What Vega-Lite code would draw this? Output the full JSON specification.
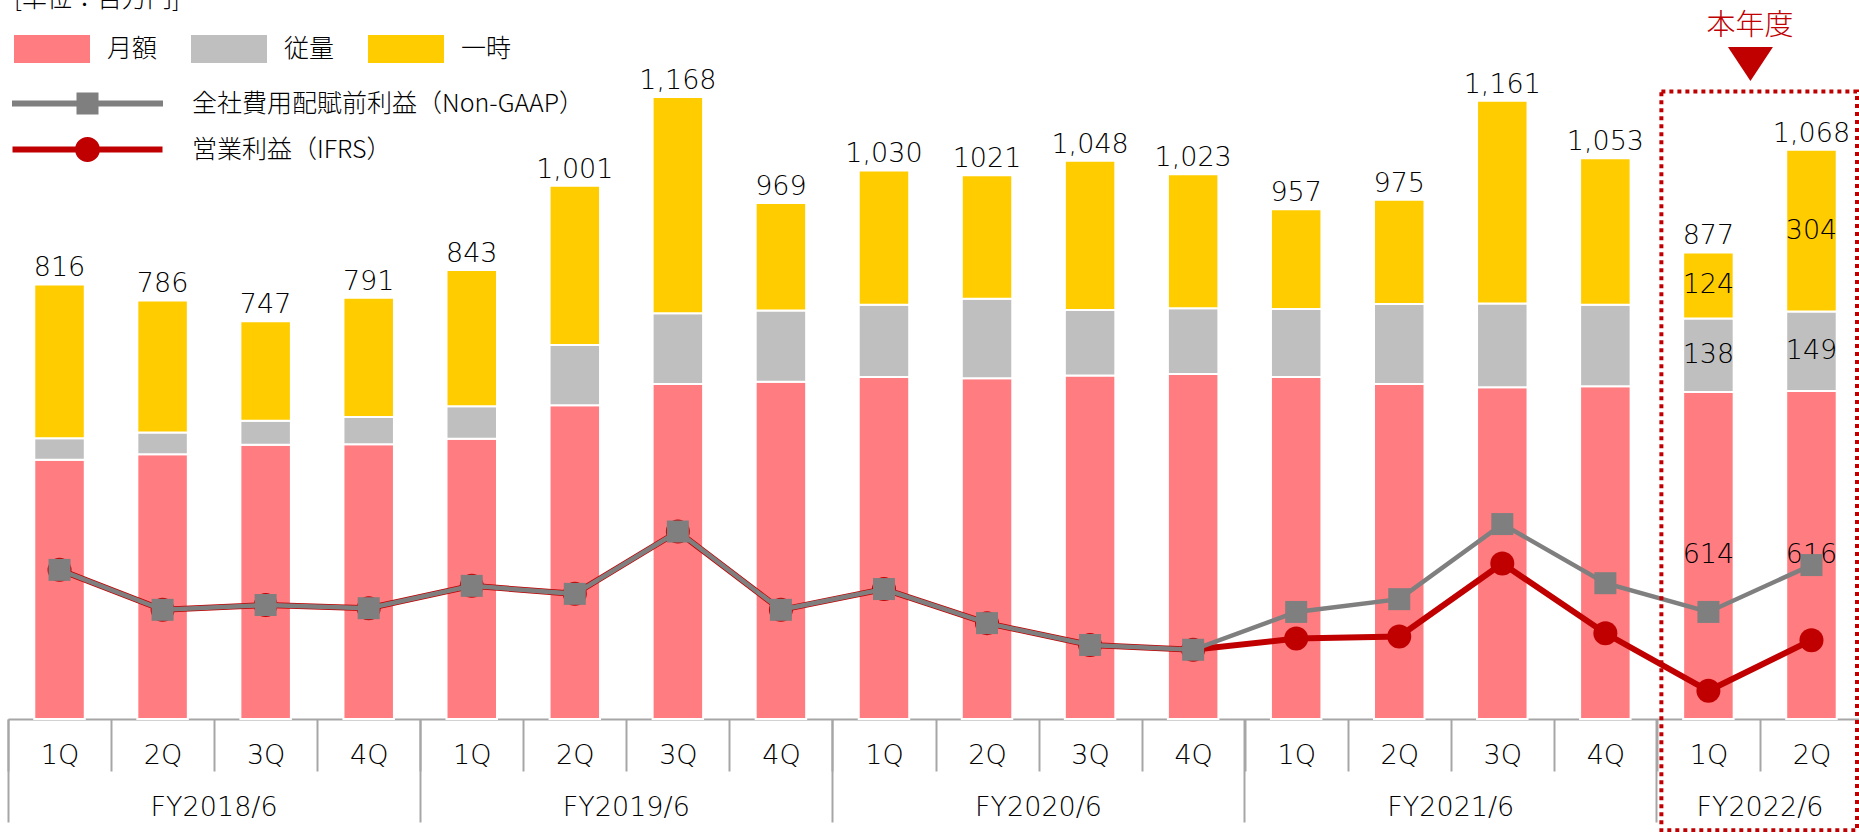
{
  "$schema": "https://vega.github.io/schema/vega-lite/v6.json",
  "width": 1851,
  "height": 719,
  "autosize": {"type": "none"},
  "padding": {"left": 8, "top": 0, "right": 0, "bottom": 113},
  "background": "white",
  "config": {"view": {"stroke": null}, "font": "Noto Sans CJK JP"},
  "datasets": {
    "seg": [
      {"q": "FY2018/6|1Q", "cat": "月額", "v": 487}, {"q": "FY2018/6|1Q", "cat": "従量", "v": 40}, {"q": "FY2018/6|1Q", "cat": "一時", "v": 289},
      {"q": "FY2018/6|2Q", "cat": "月額", "v": 497}, {"q": "FY2018/6|2Q", "cat": "従量", "v": 41}, {"q": "FY2018/6|2Q", "cat": "一時", "v": 248},
      {"q": "FY2018/6|3Q", "cat": "月額", "v": 515}, {"q": "FY2018/6|3Q", "cat": "従量", "v": 45}, {"q": "FY2018/6|3Q", "cat": "一時", "v": 187},
      {"q": "FY2018/6|4Q", "cat": "月額", "v": 516}, {"q": "FY2018/6|4Q", "cat": "従量", "v": 51}, {"q": "FY2018/6|4Q", "cat": "一時", "v": 224},
      {"q": "FY2019/6|1Q", "cat": "月額", "v": 526}, {"q": "FY2019/6|1Q", "cat": "従量", "v": 61}, {"q": "FY2019/6|1Q", "cat": "一時", "v": 256},
      {"q": "FY2019/6|2Q", "cat": "月額", "v": 589}, {"q": "FY2019/6|2Q", "cat": "従量", "v": 113}, {"q": "FY2019/6|2Q", "cat": "一時", "v": 299},
      {"q": "FY2019/6|3Q", "cat": "月額", "v": 629}, {"q": "FY2019/6|3Q", "cat": "従量", "v": 133}, {"q": "FY2019/6|3Q", "cat": "一時", "v": 406},
      {"q": "FY2019/6|4Q", "cat": "月額", "v": 633}, {"q": "FY2019/6|4Q", "cat": "従量", "v": 134}, {"q": "FY2019/6|4Q", "cat": "一時", "v": 202},
      {"q": "FY2020/6|1Q", "cat": "月額", "v": 642}, {"q": "FY2020/6|1Q", "cat": "従量", "v": 136}, {"q": "FY2020/6|1Q", "cat": "一時", "v": 252},
      {"q": "FY2020/6|2Q", "cat": "月額", "v": 640}, {"q": "FY2020/6|2Q", "cat": "従量", "v": 149}, {"q": "FY2020/6|2Q", "cat": "一時", "v": 232},
      {"q": "FY2020/6|3Q", "cat": "月額", "v": 645}, {"q": "FY2020/6|3Q", "cat": "従量", "v": 123}, {"q": "FY2020/6|3Q", "cat": "一時", "v": 280},
      {"q": "FY2020/6|4Q", "cat": "月額", "v": 648}, {"q": "FY2020/6|4Q", "cat": "従量", "v": 123}, {"q": "FY2020/6|4Q", "cat": "一時", "v": 252},
      {"q": "FY2021/6|1Q", "cat": "月額", "v": 642}, {"q": "FY2021/6|1Q", "cat": "従量", "v": 128}, {"q": "FY2021/6|1Q", "cat": "一時", "v": 187},
      {"q": "FY2021/6|2Q", "cat": "月額", "v": 629}, {"q": "FY2021/6|2Q", "cat": "従量", "v": 150}, {"q": "FY2021/6|2Q", "cat": "一時", "v": 196},
      {"q": "FY2021/6|3Q", "cat": "月額", "v": 623}, {"q": "FY2021/6|3Q", "cat": "従量", "v": 157}, {"q": "FY2021/6|3Q", "cat": "一時", "v": 381},
      {"q": "FY2021/6|4Q", "cat": "月額", "v": 625}, {"q": "FY2021/6|4Q", "cat": "従量", "v": 153}, {"q": "FY2021/6|4Q", "cat": "一時", "v": 275},
      {"q": "FY2022/6|1Q", "cat": "月額", "v": 614}, {"q": "FY2022/6|1Q", "cat": "従量", "v": 138}, {"q": "FY2022/6|1Q", "cat": "一時", "v": 124},
      {"q": "FY2022/6|2Q", "cat": "月額", "v": 616}, {"q": "FY2022/6|2Q", "cat": "従量", "v": 149}, {"q": "FY2022/6|2Q", "cat": "一時", "v": 304}
    ],
    "tot": [
      {"q": "FY2018/6|1Q", "total": 816, "label": "816"},
      {"q": "FY2018/6|2Q", "total": 786, "label": "786"},
      {"q": "FY2018/6|3Q", "total": 747, "label": "747"},
      {"q": "FY2018/6|4Q", "total": 791, "label": "791"},
      {"q": "FY2019/6|1Q", "total": 843, "label": "843"},
      {"q": "FY2019/6|2Q", "total": 1001, "label": "1,001"},
      {"q": "FY2019/6|3Q", "total": 1168, "label": "1,168"},
      {"q": "FY2019/6|4Q", "total": 969, "label": "969"},
      {"q": "FY2020/6|1Q", "total": 1030, "label": "1,030"},
      {"q": "FY2020/6|2Q", "total": 1021, "label": "1021"},
      {"q": "FY2020/6|3Q", "total": 1048, "label": "1,048"},
      {"q": "FY2020/6|4Q", "total": 1023, "label": "1,023"},
      {"q": "FY2021/6|1Q", "total": 957, "label": "957"},
      {"q": "FY2021/6|2Q", "total": 975, "label": "975"},
      {"q": "FY2021/6|3Q", "total": 1161, "label": "1,161"},
      {"q": "FY2021/6|4Q", "total": 1053, "label": "1,053"},
      {"q": "FY2022/6|1Q", "total": 877, "label": "877"},
      {"q": "FY2022/6|2Q", "total": 1068, "label": "1,068"}
    ],
    "prof": [
      {"q": "FY2018/6|1Q", "s": "全社費用配賦前利益（Non-GAAP）", "v": 280}, {"q": "FY2018/6|1Q", "s": "営業利益（IFRS）", "v": 280},
      {"q": "FY2018/6|2Q", "s": "全社費用配賦前利益（Non-GAAP）", "v": 205}, {"q": "FY2018/6|2Q", "s": "営業利益（IFRS）", "v": 205},
      {"q": "FY2018/6|3Q", "s": "全社費用配賦前利益（Non-GAAP）", "v": 214}, {"q": "FY2018/6|3Q", "s": "営業利益（IFRS）", "v": 214},
      {"q": "FY2018/6|4Q", "s": "全社費用配賦前利益（Non-GAAP）", "v": 208}, {"q": "FY2018/6|4Q", "s": "営業利益（IFRS）", "v": 208},
      {"q": "FY2019/6|1Q", "s": "全社費用配賦前利益（Non-GAAP）", "v": 250}, {"q": "FY2019/6|1Q", "s": "営業利益（IFRS）", "v": 250},
      {"q": "FY2019/6|2Q", "s": "全社費用配賦前利益（Non-GAAP）", "v": 235}, {"q": "FY2019/6|2Q", "s": "営業利益（IFRS）", "v": 235},
      {"q": "FY2019/6|3Q", "s": "全社費用配賦前利益（Non-GAAP）", "v": 352}, {"q": "FY2019/6|3Q", "s": "営業利益（IFRS）", "v": 352},
      {"q": "FY2019/6|4Q", "s": "全社費用配賦前利益（Non-GAAP）", "v": 205}, {"q": "FY2019/6|4Q", "s": "営業利益（IFRS）", "v": 205},
      {"q": "FY2020/6|1Q", "s": "全社費用配賦前利益（Non-GAAP）", "v": 244}, {"q": "FY2020/6|1Q", "s": "営業利益（IFRS）", "v": 244},
      {"q": "FY2020/6|2Q", "s": "全社費用配賦前利益（Non-GAAP）", "v": 180}, {"q": "FY2020/6|2Q", "s": "営業利益（IFRS）", "v": 180},
      {"q": "FY2020/6|3Q", "s": "全社費用配賦前利益（Non-GAAP）", "v": 139}, {"q": "FY2020/6|3Q", "s": "営業利益（IFRS）", "v": 139},
      {"q": "FY2020/6|4Q", "s": "全社費用配賦前利益（Non-GAAP）", "v": 130}, {"q": "FY2020/6|4Q", "s": "営業利益（IFRS）", "v": 130},
      {"q": "FY2021/6|1Q", "s": "全社費用配賦前利益（Non-GAAP）", "v": 201}, {"q": "FY2021/6|1Q", "s": "営業利益（IFRS）", "v": 151},
      {"q": "FY2021/6|2Q", "s": "全社費用配賦前利益（Non-GAAP）", "v": 225}, {"q": "FY2021/6|2Q", "s": "営業利益（IFRS）", "v": 155},
      {"q": "FY2021/6|3Q", "s": "全社費用配賦前利益（Non-GAAP）", "v": 366}, {"q": "FY2021/6|3Q", "s": "営業利益（IFRS）", "v": 292},
      {"q": "FY2021/6|4Q", "s": "全社費用配賦前利益（Non-GAAP）", "v": 255}, {"q": "FY2021/6|4Q", "s": "営業利益（IFRS）", "v": 161},
      {"q": "FY2022/6|1Q", "s": "全社費用配賦前利益（Non-GAAP）", "v": 201}, {"q": "FY2022/6|1Q", "s": "営業利益（IFRS）", "v": 53},
      {"q": "FY2022/6|2Q", "s": "全社費用配賦前利益（Non-GAAP）", "v": 289}, {"q": "FY2022/6|2Q", "s": "営業利益（IFRS）", "v": 148}
    ]
  },
  "layer": [
    {
      "data": {"name": "seg"},
      "transform": [{"stack": "v", "groupby": ["q"], "sort": [{"field": "cat", "order": "descending"}], "as": ["y0", "y1"]}],
      "mark": {"type": "bar", "width": {"band": 0.49}, "stroke": "white", "strokeWidth": 2},
      "encoding": {
        "x": {"field": "q", "type": "nominal", "scale": {"type": "band", "paddingInner": 0, "paddingOuter": 0, "range": [0, 1855]},
          "axis": {"orient": "bottom", "title": null, "labelExpr": "split(datum.label, '|')[1]", "labelAngle": 0, "tickBand": "extent", "ticks": true, "tickSize": 52, "tickColor": "#a6a6a6", "tickWidth": 2, "domain": true, "domainColor": "#a6a6a6", "domainWidth": 2, "labelFont": "DejaVu Sans", "labelFontSize": 27, "labelFontWeight": 200, "labelColor": "#000000", "labelBaseline": "middle", "labelPadding": -16, "grid": false, "labelOverlap": false, "labelBound": false, "labelFlush": false}},
        "y": {"field": "y1", "type": "quantitative", "scale": {"domain": [0, 1350], "nice": false, "zero": true}, "axis": null},
        "y2": {"field": "y0"},
        "fill": {"field": "cat", "type": "nominal", "scale": {"domain": ["月額", "従量", "一時"], "range": ["#ff7c80", "#bfbfbf", "#ffcc00"]},
          "legend": {"orient": "none", "direction": "horizontal", "legendX": 6, "legendY": -13, "title": "[単位：百万円]", "titleFont": "Noto Sans CJK JP", "titleFontSize": 25, "titleFontWeight": 300, "titleColor": "#000000", "titleBaseline": "top", "titleAnchor": "start", "titleAlign": "left", "titlePadding": 23, "titleLimit": 600, "symbolType": "M-1,-1H4.428V1H-1Z", "symbolSize": 784, "symbolStrokeWidth": 0, "symbolOpacity": 1, "labelOffset": 65, "labelFont": "Noto Sans CJK JP", "labelFontSize": 25, "labelFontWeight": 300, "labelColor": "#000000", "columnPadding": 33, "padding": 0, "labelBaseline": "middle"}}
      }
    },
    {
      "data": {"name": "seg"},
      "transform": [
        {"filter": "indexof(datum.q, 'FY2022') === 0"},
        {"stack": "v", "groupby": ["q"], "sort": [{"field": "cat", "order": "descending"}], "as": ["y0", "y1"]},
        {"fold": ["y0", "y1"], "as": ["k", "p"]}
      ],
      "mark": {"type": "text", "font": "DejaVu Sans", "fontSize": 27, "fontWeight": 200, "baseline": "middle", "color": "#000000"},
      "encoding": {
        "x": {"field": "q", "type": "nominal", "axis": null},
        "y": {"aggregate": "mean", "field": "p", "type": "quantitative", "axis": null},
        "detail": {"field": "cat", "type": "nominal"},
        "text": {"aggregate": "max", "field": "v", "type": "quantitative"}
      }
    },
    {
      "data": {"name": "tot"},
      "mark": {"type": "text", "font": "DejaVu Sans", "fontSize": 27, "fontWeight": 200, "baseline": "alphabetic", "dy": -8, "color": "#000000"},
      "encoding": {
        "x": {"field": "q", "type": "nominal",
          "axis": {"orient": "bottom", "title": null, "values": ["FY2018/6|2Q", "FY2019/6|2Q", "FY2020/6|2Q", "FY2021/6|2Q", "FY2022/6|1Q"], "ticks": false, "tickSize": 0, "domain": false, "grid": false, "labelExpr": "split(datum.label, '|')[0]", "labelOffset": 51.5, "labelPadding": 88, "labelBaseline": "middle", "labelFont": "DejaVu Sans", "labelFontSize": 27, "labelFontWeight": 200, "labelAngle": 0, "labelColor": "#000000", "labelOverlap": false, "labelBound": false, "labelFlush": false}},
        "y": {"field": "total", "type": "quantitative", "axis": null},
        "text": {"field": "label", "type": "nominal"}
      }
    },
    {
      "data": {"name": "prof"},
      "transform": [{"filter": "datum.s === '営業利益（IFRS）'"}],
      "mark": {"type": "line", "strokeWidth": 6},
      "encoding": {
        "x": {"field": "q", "type": "nominal",
          "axis": {"orient": "bottom", "title": null, "values": ["FY2018/6|1Q", "FY2019/6|1Q", "FY2020/6|1Q", "FY2021/6|1Q", "FY2022/6|1Q"], "bandPosition": 0, "labels": false, "domain": false, "ticks": true, "tickSize": 103, "tickColor": "#a6a6a6", "tickWidth": 2, "grid": false}},
        "y": {"field": "v", "type": "quantitative", "axis": null},
        "stroke": {"field": "s", "type": "nominal", "scale": {"domain": ["全社費用配賦前利益（Non-GAAP）", "営業利益（IFRS）"], "range": ["#7f7f7f", "#c00000"]},
          "legend": {"orient": "none", "direction": "vertical", "legendX": 67, "legendY": 91, "title": null, "symbolSize": 625, "symbolStrokeWidth": 0, "labelOffset": 92, "labelFont": "Noto Sans CJK JP", "labelFontSize": 25, "labelFontWeight": 300, "labelColor": "#000000", "labelLimit": 700, "rowPadding": 20, "padding": 0, "labelBaseline": "middle",
            "encode": {"symbols": {"update": {
              "shape": {"signal": "datum.value === '営業利益（IFRS）' ? 'M-6,-0.24H6V0.24H-6Z M-1,0A1,1 0 1,1 1,0A1,1 0 1,1 -1,0Z' : 'M-6.04,-0.24H6.04V0.24H-6.04Z M-0.88,-0.88H0.88V0.88H-0.88Z'"},
              "fill": {"signal": "datum.value === '営業利益（IFRS）' ? '#c00000' : '#7f7f7f'"},
              "fillOpacity": {"value": 1},
              "strokeWidth": {"value": 0}
            }}}}}
      }
    },
    {
      "data": {"name": "prof"},
      "transform": [{"filter": "datum.s === '営業利益（IFRS）'"}],
      "mark": {"type": "point", "shape": "circle", "filled": true, "size": 576, "color": "#c00000", "opacity": 1, "strokeWidth": 0},
      "encoding": {
        "x": {"field": "q", "type": "nominal", "axis": null},
        "y": {"field": "v", "type": "quantitative", "axis": null}
      }
    },
    {
      "data": {"name": "prof"},
      "transform": [{"filter": "datum.s === '全社費用配賦前利益（Non-GAAP）'"}],
      "mark": {"type": "line", "strokeWidth": 4.5, "color": "#7f7f7f"},
      "encoding": {
        "x": {"field": "q", "type": "nominal", "axis": null},
        "y": {"field": "v", "type": "quantitative", "axis": null}
      }
    },
    {
      "data": {"name": "prof"},
      "transform": [{"filter": "datum.s === '全社費用配賦前利益（Non-GAAP）'"}],
      "mark": {"type": "point", "shape": "square", "filled": true, "size": 484, "color": "#7f7f7f", "opacity": 1, "strokeWidth": 0},
      "encoding": {
        "x": {"field": "q", "type": "nominal", "axis": null},
        "y": {"field": "v", "type": "quantitative", "axis": null}
      }
    },
    {
      "data": {"values": [{"n": 1}]},
      "mark": {"type": "rect", "fill": null, "stroke": "#c00000", "strokeWidth": 4, "strokeDash": [4, 4], "xOffset": 4.5, "x2Offset": -6},
      "encoding": {
        "x": {"datum": "FY2022/6|1Q", "type": "nominal", "bandPosition": 0, "axis": null},
        "x2": {"datum": "FY2022/6|2Q", "bandPosition": 1},
        "y": {"datum": 1178, "type": "quantitative", "axis": null},
        "y2": {"datum": -209}
      }
    },
    {
      "data": {"values": [{"n": 1}]},
      "mark": {"type": "text", "font": "Noto Sans CJK JP", "fontSize": 29, "fontWeight": 300, "color": "#c00000", "baseline": "middle", "align": "center", "dx": -10},
      "encoding": {
        "x": {"datum": "FY2022/6|1Q", "type": "nominal", "bandPosition": 1, "axis": null},
        "y": {"datum": 1302, "type": "quantitative", "axis": null},
        "text": {"value": "本年度"}
      }
    },
    {
      "data": {"values": [{"n": 1}]},
      "mark": {"type": "point", "shape": "M-1,-0.755L1,-0.755L0,0.755Z", "filled": true, "size": 2025, "color": "#c00000", "opacity": 1, "strokeWidth": 0, "xOffset": -9.5},
      "encoding": {
        "x": {"datum": "FY2022/6|1Q", "type": "nominal", "bandPosition": 1, "axis": null},
        "y": {"datum": 1230, "type": "quantitative", "axis": null}
      }
    }
  ],
  "resolve": {"axis": {"x": "independent"}}
}
